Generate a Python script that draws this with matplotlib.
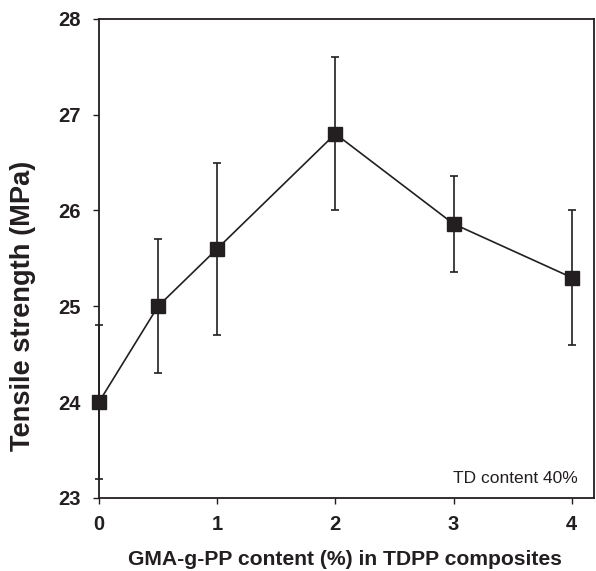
import matplotlib
matplotlib.use("Agg")
import matplotlib.pyplot as plt

# GMA-g-PP content (%) and tensile strength (MPa)
gma_content = [0, 0.5, 1, 2, 3, 4]
tensile = [24.0, 25.0, 25.6, 26.8, 25.86, 25.3]
tensile_err = [0.8, 0.7, 0.9, 0.8, 0.5, 0.7]

x_ticks = [0, 1, 2, 3, 4]
y_ticks = [23, 24, 25, 26, 27, 28]

ink = '#231f20'
plt.rcParams['font.family'] = ['Liberation Sans', 'DejaVu Sans']

fig = plt.figure(figsize=(5.96, 5.71), dpi=100)
ax = fig.add_axes([0.166, 0.128, 0.831, 0.839])

ax.errorbar(gma_content, tensile, yerr=tensile_err, color=ink, marker='s',
            markersize=9.5, linewidth=1.2, elinewidth=1.2, capsize=3, capthick=1.2,
            clip_on=False, zorder=3)

ax.set_xlim(0, 4.19)
ax.set_ylim(23, 28)
ax.set_xticks(x_ticks)
ax.set_yticks(y_ticks)
ax.tick_params(direction='out', length=4.3, width=1, colors=ink, labelsize=14.5,
               top=False, right=False)
ax.tick_params(axis='y', pad=9)
ax.tick_params(axis='x', pad=8)
for lbl in ax.get_xticklabels() + ax.get_yticklabels():
    lbl.set_fontweight('bold')
for sp in ax.spines.values():
    sp.set_color(ink)
    sp.set_linewidth(1.3)

ax.set_xlabel("GMA-g-PP content (%) in TDPP composites", fontsize=15.2,
              fontweight='bold', color=ink)
ax.xaxis.set_label_coords(0.497, -0.109)
ax.set_ylabel("Tensile strength (MPa)", fontsize=19.6, fontweight='bold',
              color=ink)
ax.yaxis.set_label_coords(-0.128, 0.40)
ax.text(0.966, 0.031, "TD content 40%", transform=ax.transAxes, ha='right',
        va='baseline', fontsize=12.5, color=ink)

plt.savefig("out.png", dpi=100)
plt.close()
